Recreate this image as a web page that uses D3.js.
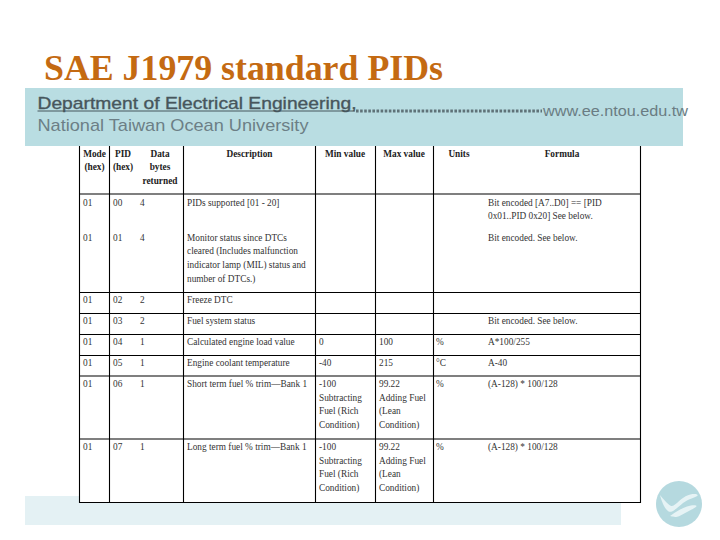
<!DOCTYPE html>
<html><head><meta charset="utf-8">
<script src="https://cdnjs.cloudflare.com/ajax/libs/d3/7.8.5/d3.min.js"></script>
<style>html,body{margin:0;padding:0;background:#fff}svg{display:block}</style>
</head><body><svg id="c" width="720" height="540"></svg>
<script>
const titleText = "SAE J1979 standard PIDs";
const deptText = "Department of Electrical Engineering,";
const uniText = "National Taiwan Ocean University";
const urlText = "www.ee.ntou.edu.tw";
const columns = ["mode","pid","bytes","desc","min","max","units","formula"];
const headers = [
  ["Mode","(hex)"],["PID","(hex)"],["Data","bytes","returned"],["Description"],
  ["Min value"],["Max value"],["Units"],["Formula"]];
const mode = ["01","01","01","01","01","01","01","01"];
const pid = ["00","01","02","03","04","05","06","07"];
const bytes = ["4","4","2","2","1","1","1","1"];
const desc = [
  ["PIDs supported [01 - 20]"],
  ["Monitor status since DTCs","cleared  (Includes malfunction","indicator lamp (MIL) status and","number of DTCs.)"],
  ["Freeze DTC"],["Fuel system status"],["Calculated engine load value"],
  ["Engine coolant temperature"],["Short term fuel % trim\u2014Bank 1"],["Long term fuel % trim\u2014Bank 1"]];
const minV = [[],[],[],[],["0"],["-40"],["-100","Subtracting","Fuel (Rich","Condition)"],["-100","Subtracting","Fuel (Rich","Condition)"]];
const maxV = [[],[],[],[],["100"],["215"],["99.22","Adding Fuel","(Lean","Condition)"],["99.22","Adding Fuel","(Lean","Condition)"]];
const units = ["","","","","%","\u00b0C","%","%"];
const formula = [
  ["Bit encoded [A7..D0] == [PID","0x01..PID 0x20] See below."],
  ["Bit encoded. See below."],[],["Bit encoded. See below."],
  ["A*100/255"],["A-40"],["(A-128) * 100/128"],["(A-128) * 100/128"]];

const svg = d3.select("#c");
const colEdges = [79.5,109.5,183.5,315.5,375.5,433.5,640.5];
const textX = d3.scaleOrdinal().domain(columns).range([83,113,140,187,319,379,436,488]);
const headX = d3.scaleOrdinal().domain(columns).range([94.5,123,160,249.5,345,404,459,562]);
const rowBase = d3.scaleOrdinal().domain(pid).range([205.5,240.5,303,324,345,366,387,450]);
const lineH = 13.7;
const hLines = [194,292.5,313.5,334.5,355.5,376,439,502.5];

svg.append("rect").attr("x",25).attr("y",496).attr("width",596).attr("height",29).attr("fill","#e4f1f4");
svg.append("rect").attr("x",25).attr("y",88).attr("width",658).attr("height",58).attr("fill","#b9dde2");
svg.append("rect").attr("x",79).attr("y",146).attr("width",562).attr("height",357).attr("fill","#fff");

const ss = "Liberation Sans, Arial, sans-serif";
const serif = "Liberation Serif, Times New Roman, serif";
svg.append("text").text(titleText).attr("x",44).attr("y",80).attr("font-family",serif)
  .attr("font-weight","bold").attr("font-size",36).attr("textLength",399).attr("lengthAdjust","spacingAndGlyphs").attr("fill","#c46a12");
svg.append("text").text(deptText).attr("x",37.5).attr("y",109).attr("font-family",ss)
  .attr("font-size",17).attr("textLength",319).attr("lengthAdjust","spacingAndGlyphs").attr("stroke","#47565c").attr("stroke-width",0.35).attr("fill","#47565c");
svg.append("text").text(uniText).attr("x",37.5).attr("y",131).attr("font-family",ss)
  .attr("font-size",17).attr("textLength",271).attr("lengthAdjust","spacingAndGlyphs").attr("fill","#6c7f86");
svg.append("line").attr("x1",37.5).attr("x2",355).attr("y1",111).attr("y2",111).attr("stroke","#47565c").attr("stroke-width",1);
svg.append("line").attr("x1",356).attr("x2",542).attr("y1",111).attr("y2",111).attr("stroke","#5f7278").attr("stroke-width",3).attr("stroke-dasharray","2.6 1.5");
svg.append("text").text(urlText).attr("x",543).attr("y",115.5).attr("font-family",ss)
  .attr("font-size",15.5).attr("textLength",145).attr("lengthAdjust","spacingAndGlyphs").attr("fill","#6a7c83");

const lineG = svg.append("g").attr("stroke","#000").attr("stroke-width",1.1);
lineG.selectAll("line.v").data(colEdges).join("line").attr("class","v")
  .attr("x1",d=>d).attr("x2",d=>d).attr("y1",146).attr("y2",503);
lineG.selectAll("line.h").data(hLines).join("line").attr("class","h")
  .attr("x1",79).attr("x2",641).attr("y1",d=>d).attr("y2",d=>d);

const tg = svg.append("g").attr("font-family",serif).attr("font-size",9.3).attr("fill","#333");
columns.forEach((c,i)=>{
  headers[i].forEach((t,j)=>{
    tg.append("text").text(t).attr("x",headX(c)).attr("y",156.5+j*13.9)
      .attr("text-anchor","middle").attr("font-weight","bold").attr("fill","#222");
  });
});
const multi = {desc,min:minV,max:maxV,formula};
const single = {mode,pid,bytes,units};
pid.forEach((p,r)=>{
  const base = rowBase(p);
  Object.keys(single).forEach(c=>{
    tg.append("text").text(single[c][r]).attr("x",textX(c)).attr("y",base);
  });
  Object.keys(multi).forEach(c=>{
    multi[c][r].forEach((t,j)=>{
      tg.append("text").text(t).attr("x",textX(c)).attr("y",base+j*lineH);
    });
  });
});

const logo = svg.append("g").attr("transform","translate(679,504)");
logo.append("circle").attr("r",23).attr("fill","#b5d9df");
const hand = d3.line().curve(d3.curveBasis);
logo.append("path").attr("fill","#e6f3f5").attr("d",
  hand([[-19,-9],[-14,-3],[-8,3],[-4,1],[4,-7],[14,-11],[21,-9],[14,-6],[6,-3],[-2,4],[-8,9],[-13,6],[-17,-2],[-19,-9]]));
logo.append("path").attr("fill","#e6f3f5").attr("d",
  hand([[-9,12],[0,6],[8,2],[16,1],[19,2],[12,6],[6,9],[-2,14],[-9,12]]));
</script></body></html>
